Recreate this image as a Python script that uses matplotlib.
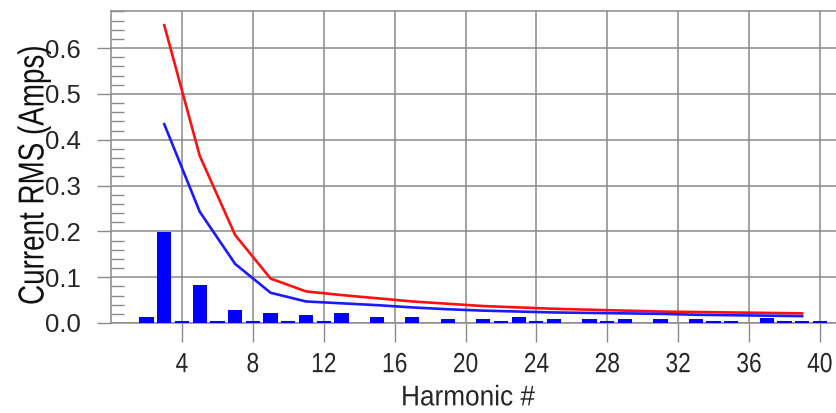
import matplotlib
matplotlib.use("Agg")
import matplotlib.pyplot as plt
from matplotlib.ticker import MultipleLocator, FixedLocator
from matplotlib.patheffects import AbstractPathEffect
from matplotlib.transforms import Affine2D

# ---- data ----
bar_harmonics = list(range(2, 41))
bar_values = [0.013, 0.199, 0.004, 0.084, 0.004, 0.029, 0.004, 0.021, 0.004, 0.017,
              0.005, 0.021, 0.0, 0.014, 0.0, 0.014, 0.0, 0.009, 0.0, 0.009,
              0.004, 0.014, 0.004, 0.008, 0.0, 0.008, 0.004, 0.008, 0.0, 0.008,
              0.0, 0.008, 0.004, 0.004, 0.0, 0.011, 0.004, 0.004, 0.004]
line_harmonics = list(range(3, 40, 2))
red_values = [0.650, 0.365, 0.192, 0.097, 0.069, 0.061, 0.054, 0.047, 0.042, 0.037,
              0.034, 0.031, 0.029, 0.027, 0.025, 0.024, 0.023, 0.022, 0.021]
blue_values = [0.434, 0.243, 0.129, 0.066, 0.047, 0.043, 0.039, 0.034, 0.030, 0.027,
               0.025, 0.023, 0.022, 0.021, 0.020, 0.018, 0.017, 0.016, 0.015]
x_ticks = [4, 8, 12, 16, 20, 24, 28, 32, 36, 40]
y_ticks = [0.0, 0.1, 0.2, 0.3, 0.4, 0.5, 0.6]
y_tick_labels = ["0.0", "0.1", "0.2", "0.3", "0.4", "0.5", "0.6"]
x_label = "Harmonic #"
y_label = "Current RMS (Amps)"


class Squeeze(AbstractPathEffect):
    """Condense glyphs along the baseline around their centre."""
    def __init__(self, sx=1.0):
        super().__init__()
        self.sx = sx

    def draw_path(self, renderer, gc, tpath, affine, rgbFace=None):
        ext = tpath.get_extents()
        cx = (ext.x0 + ext.x1) / 2.0
        t = Affine2D().translate(-cx, 0).scale(self.sx, 1.0).translate(cx, 0) + affine
        renderer.draw_path(gc, tpath, t, rgbFace)


W, H = 836, 413
fig = plt.figure(figsize=(W / 100, H / 100), dpi=100)
fig.patch.set_facecolor("white")

px_per_x = 17.72
x0_px = 111.1
xmax = 41.5
ax = fig.add_axes([x0_px / W, 90 / H, xmax * px_per_x / W, 312 / H])

grid_col = "#8a8a8a"
txt_col = "#262626"

ax.bar(bar_harmonics, bar_values, width=0.8, color="#0000ff", zorder=3)
ax.plot(line_harmonics, red_values, color="#ff1010", lw=1.9, zorder=4)
ax.plot(line_harmonics, blue_values, color="#1a1aff", lw=1.9, zorder=4)

ax.set_xlim(0, xmax)
ax.set_ylim(0, 0.681)

ax.xaxis.set_major_locator(FixedLocator(x_ticks))
ax.set_yticks(y_ticks)
ax.set_yticklabels(y_tick_labels)
ax.yaxis.set_minor_locator(MultipleLocator(0.02))

ax.grid(which="major", color=grid_col, lw=1.1, zorder=1)
ax.set_axisbelow(True)
for s in ["left", "top", "bottom"]:
    ax.spines[s].set_color(grid_col)
    ax.spines[s].set_linewidth(1.1)
ax.spines["right"].set_visible(False)

ax.tick_params(axis="x", which="major", direction="out", length=14, width=1.0,
               color=grid_col, pad=7, labelsize=20, labelcolor=txt_col)
ax.tick_params(axis="y", which="major", direction="out", length=10, width=1.0,
               color=grid_col, pad=12, labelsize=18.5, labelcolor=txt_col)
ax.tick_params(axis="y", which="minor", direction="in", length=9.5, width=1.0,
               color=grid_col)
for lab in ax.get_xticklabels() + ax.get_yticklabels():
    lab.set_fontfamily("Liberation Sans")

xl = ax.set_xlabel(x_label, fontsize=20.5, color=txt_col, family="Liberation Sans")
ax.xaxis.set_label_coords((468 - x0_px) / (xmax * px_per_x), -0.20)

fig.text(34 / W, 1 - 175 / H, y_label, rotation=90, ha="center", va="center",
         fontsize=26, color="#111111", family="Liberation Sans",
         path_effects=[Squeeze(0.77)])

fig.canvas.draw()
for lab in ax.get_xticklabels():
    lab.set_path_effects([Squeeze(0.82)])
xl.set_path_effects([Squeeze(0.92)])

fig.savefig("out.png", dpi=100, facecolor="white")
